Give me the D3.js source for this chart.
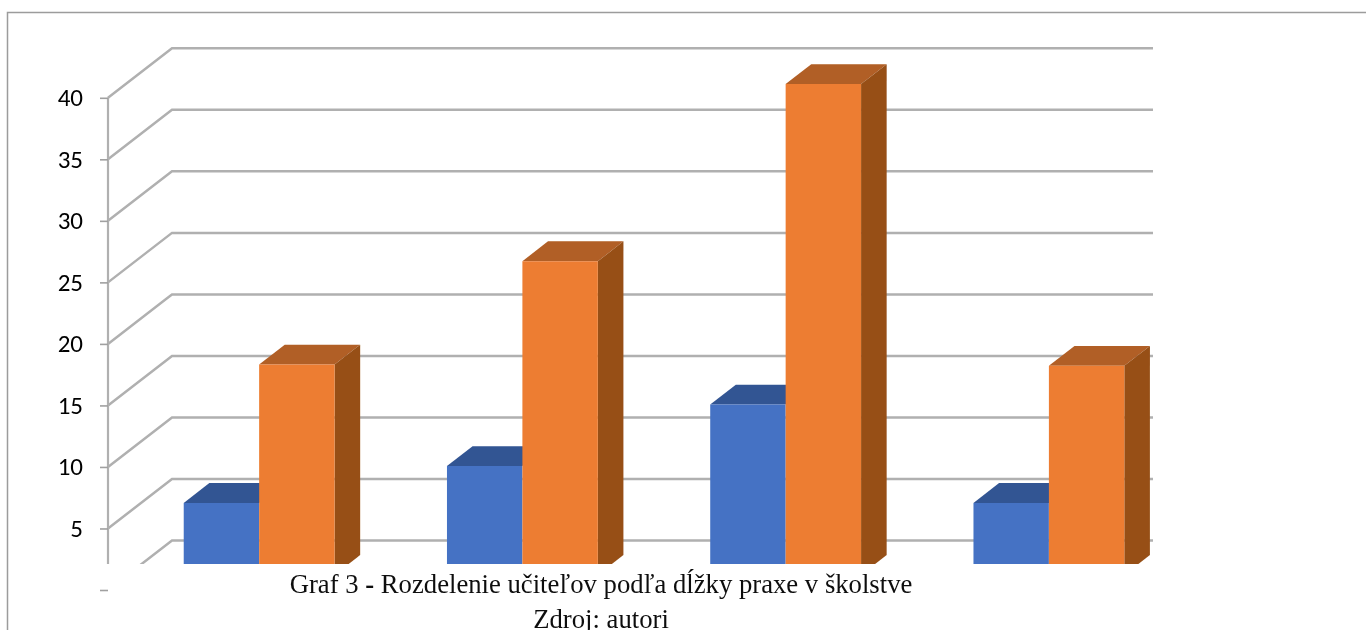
<!DOCTYPE html>
<html>
<head>
<meta charset="utf-8">
<title>Graf 3</title>
<script src="https://d3js.org/d3.v7.min.js"></script>
<style>
  html, body { margin: 0; padding: 0; background: #fff; overflow: hidden; }
  svg { display: block; }
</style>
</head>
<body>
<script>
// the category labels are hidden under the caption in the source picture
var categories = [0, 1, 2, 3];
var seriesNames = ['a', 'b'];
var seriesA = [5.85, 8.85, 13.85, 5.85];
var seriesB = [17.1, 25.5, 39.9, 17];
var tickValues = [5, 10, 15, 20, 25, 30, 35, 40];
var gridValues = [0, 5, 10, 15, 20, 25, 30, 35, 40];

var width = 1366, height = 630;
var colors = {
    a: { front: '#4472c4', top: '#335593' },
    b: { front: '#ed7d31', top: '#b15e25', side: '#975019' }
};

var svg = d3.select('body').append('svg')
    .attr('width', width)
    .attr('height', height);

var defs = svg.append('defs');
defs.append('filter').attr('id', 'soft')
    .attr('filterUnits', 'userSpaceOnUse')
    .attr('x', 0).attr('y', 0).attr('width', width).attr('height', height)
    .append('feGaussianBlur').attr('stdDeviation', 0.7);
defs.append('filter').attr('id', 'softText')
    .attr('filterUnits', 'userSpaceOnUse')
    .attr('x', 0).attr('y', 0).attr('width', width).attr('height', height)
    .append('feGaussianBlur').attr('stdDeviation', 0.35);
// the caption was pasted over the bottom of the chart, so the plot stops at 564
defs.append('clipPath').attr('id', 'plot')
    .append('rect').attr('x', 90).attr('y', 0).attr('width', 1063).attr('height', 564);

var y = d3.scaleLinear().domain([0, 40]).range([590, 97.8]);
var x = d3.scaleBand().domain(categories).range([108, 1161])
    .paddingInner(0.427).paddingOuter(0.2135);
var xInner = d3.scaleBand().domain(seriesNames).range([0, x.bandwidth()]);

// depth of the floor in px, 0 = front of the chart, 1 = back wall
var depth = d3.scaleLinear().domain([0, 1]).range([0, 64]);
var lift = d3.scaleLinear().domain([0, 1]).range([0, 49.5]);
var barNear = 0.305, barFar = 0.705;

function pt(px, v, d) {
    return [px + depth(d), y(v) - lift(d)];
}
function poly(points) {
    return points.map(function(p) { return p.join(','); }).join(' ');
}

// frame
svg.append('path')
    .attr('d', 'M7.5,630V12.5H1366')
    .attr('fill', 'none')
    .attr('stroke', '#9c9c9c')
    .attr('stroke-width', 1.5);

var chart = svg.append('g').attr('filter', 'url(#soft)');
var plot = chart.append('g').attr('clip-path', 'url(#plot)');

// walls
plot.selectAll('polyline.grid').data(gridValues).enter().append('polyline')
    .attr('class', 'grid')
    .attr('points', function(v) {
        return poly([pt(108, v, 0), pt(108, v, 1), [1160, y(v) - lift(1)]]);
    })
    .attr('fill', 'none')
    .attr('stroke', '#b0b0b0')
    .attr('stroke-width', 2.5);

plot.append('line')
    .attr('x1', 108).attr('x2', 108)
    .attr('y1', y(40)).attr('y2', 600)
    .attr('stroke', '#b0b0b0')
    .attr('stroke-width', 2.2);

// axis, only the ticks and the labels are kept from d3.axisLeft
var axis = d3.axisLeft(y).tickValues(gridValues).tickSize(8).tickPadding(17)
    .tickFormat(function(v) { return tickValues.indexOf(v) >= 0 ? v : ''; });
var axisG = chart.append('g')
    .attr('transform', 'translate(108,0)')
    .call(axis);
axisG.select('.domain').remove();
axisG.selectAll('line').attr('stroke', '#a0a0a0').attr('stroke-width', 1.6);
axisG.selectAll('text')
    .attr('font-family', 'Carlito, Lato, "Open Sans", sans-serif')
    .attr('font-size', 25)
    .attr('fill', '#000');

// bars
function drawBar(g, cat, name, v, withSide) {
    var x0 = x(cat) + xInner(name);
    var x1 = x0 + xInner.bandwidth();
    var c = colors[name];
    g.append('polygon')
        .attr('points', poly([pt(x0, v, barNear), pt(x1, v, barNear), pt(x1, v, barFar), pt(x0, v, barFar)]))
        .attr('fill', c.top);
    if (withSide) {
        g.append('polygon')
            .attr('points', poly([pt(x1, v, barNear), pt(x1, 0, barNear), pt(x1, 0, barFar), pt(x1, v, barFar)]))
            .attr('fill', c.side);
    }
    g.append('polygon')
        .attr('points', poly([pt(x0, v, barNear), pt(x1, v, barNear), pt(x1, 0, barNear), pt(x0, 0, barNear)]))
        .attr('fill', c.front);
}

categories.forEach(function(cat, i) {
    var g = plot.append('g');
    drawBar(g, cat, 'a', seriesA[i], false);
    drawBar(g, cat, 'b', seriesB[i], true);
});

// caption
var captionG = svg.append('g').attr('filter', 'url(#softText)')
    .attr('font-family', '"Liberation Serif", serif')
    .attr('font-size', 26.7)
    .attr('fill', '#111')
    .attr('text-anchor', 'middle');

var line1 = captionG.append('text').attr('x', 601).attr('y', 593.3);
line1.append('tspan').text('Graf 3 ');
line1.append('tspan').attr('font-weight', 'bold').text('- ');
line1.append('tspan').text('Rozdelenie učiteľov podľa dĺžky praxe v školstve');

// the reference cuts the descender of this line at the picture's edge too
captionG.append('text').attr('x', 601).attr('y', 628).text('Zdroj: autori');
</script>
</body>
</html>
